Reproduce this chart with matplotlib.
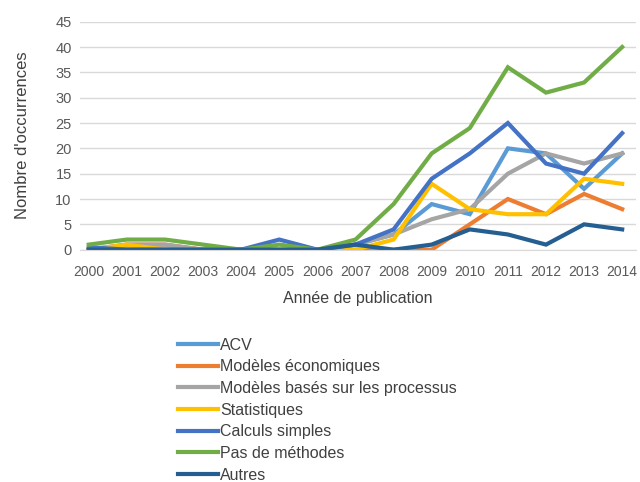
import matplotlib.pyplot as plt

plt.rcParams['font.family'] = ['Liberation Sans', 'DejaVu Sans']

# Data
years = ['2000', '2001', '2002', '2003', '2004', '2005', '2006', '2007',
         '2008', '2009', '2010', '2011', '2012', '2013', '2014']

acv = [0, 0, 0, 0, 0, 0, 0, 1, 3, 9, 7, 20, 19, 12, 19]
eco = [0, 1, 1, 0, 0, 0, 0, 0, 0, 0, 5, 10, 7, 11, 8]
process = [0, 1, 1, 0, 0, 0, 0, 1, 3, 6, 8, 15, 19, 17, 19]
stats = [0, 1, 0, 0, 0, 0, 0, 0, 2, 13, 8, 7, 7, 14, 13]
calculs = [0.5, 0, 0, 0, 0, 2, 0, 1, 4, 14, 19, 25, 17, 15, 23]
pas_methodes = [1, 2, 2, 1, 0, 1, 0, 2, 9, 19, 24, 36, 31, 33, 40]
autres = [0, 0, 0, 0, 0, 0, 0, 1, 0, 1, 4, 3, 1, 5, 4]

series = [
    ("ACV", acv, '#5B9BD5'),
    ("Modèles économiques", eco, '#ED7D31'),
    ("Modèles basés sur les processus", process, '#A5A5A5'),
    ("Statistiques", stats, '#FFC000'),
    ("Calculs simples", calculs, '#4472C4'),
    ("Pas de méthodes", pas_methodes, '#70AD47'),
    ("Autres", autres, '#255E91'),
]

fig = plt.figure(figsize=(6.4, 4.82), dpi=100)
ax = fig.add_axes([0.125, 0.482, 0.868, 0.473])

x = list(range(len(years)))
for name, vals, col in series:
    ax.plot(x, vals, color=col, linewidth=3, label=name, solid_joinstyle='miter')

ax.set_xlim(-0.23, 14.35)
ax.set_ylim(0, 45)
ax.set_yticks(range(0, 50, 5))
ax.set_xticks(x)
ax.set_xticklabels(years)
ax.grid(axis='y', color='#D9D9D9', linewidth=1)
ax.set_axisbelow(True)
for s in ['top', 'right', 'left']:
    ax.spines[s].set_visible(False)
ax.spines['bottom'].set_color('#D9D9D9')
ax.tick_params(length=0, labelsize=10.5, colors='#595959')
ax.tick_params(axis='x', pad=11, labelsize=10)
ax.tick_params(axis='y', pad=6)

ax.set_xlabel("Année de publication", fontsize=11.5, color='#404040', labelpad=9)
ax.set_ylabel("Nombre d'occurrences", fontsize=12, color='#404040', labelpad=18)

fig.legend(loc='upper left', bbox_to_anchor=(0.268, 0.313), frameon=False,
           fontsize=11.5, handlelength=2.5, handletextpad=0.15, labelspacing=0.42,
           labelcolor='#404040', borderaxespad=0)

plt.savefig('out.png', dpi=100)
